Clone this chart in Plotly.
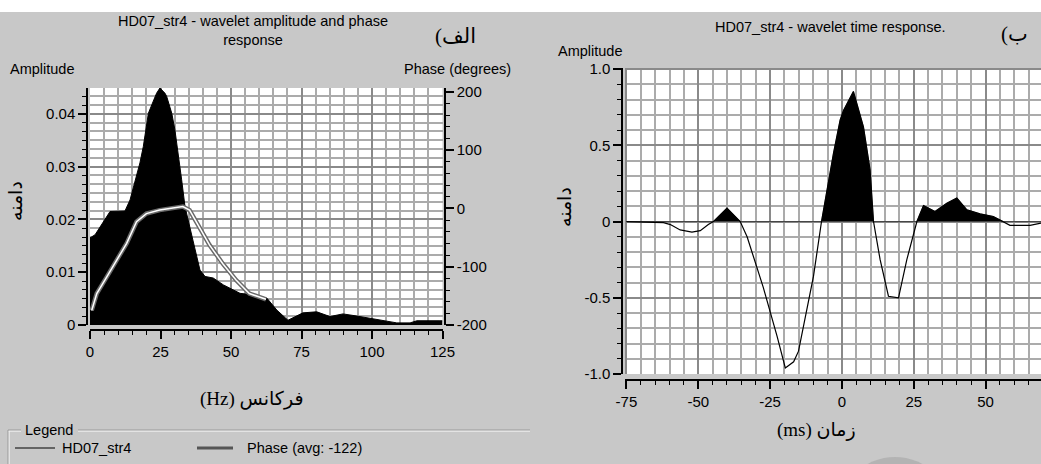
import numpy as np
import plotly.graph_objects as go

W, H = 1041, 464

# ---------------- data ----------------
freq_hz = [0, 1.8, 7.1, 12.4, 14.2, 17.7, 18.9, 20.7, 21.9, 23.6, 24.8, 26.6, 27.2, 29.0,
           30.1, 31.3, 32.5, 33.7, 36.1, 39.0, 40.8, 43.7, 47.3, 53.2, 57.9, 62.7, 66.3,
           70.2, 75.5, 80.4, 85.1, 89.7, 94.6, 99.3, 103.9, 108.8, 113.5, 115.9, 124.1, 125]
amplitude = [0.0165, 0.0171, 0.0215, 0.0216, 0.0237, 0.0307, 0.0338, 0.0401, 0.0417, 0.0439,
             0.0449, 0.0439, 0.0433, 0.0401, 0.0370, 0.0325, 0.0275, 0.0224, 0.0167, 0.0104,
             0.0092, 0.0089, 0.0076, 0.0060, 0.0057, 0.0051, 0.0028, 0.0009, 0.0023, 0.0025,
             0.0016, 0.0021, 0.0017, 0.0013, 0.0008, 0.0004, 0.0004, 0.0008, 0.0008, 0.0008]

phase_freq = [0.6, 2.4, 5.9, 9.4, 13.0, 16.5, 20.0, 24.7, 29.4, 32.9, 35.3, 38.8, 42.4,
              47.1, 51.8, 56.5, 61.2, 62.4]
phase_deg = [-175, -146, -118, -89, -60, -23, -9, -3, 0, 3, -3, -32, -63, -95, -123,
             -146, -155, -156]

time_ms = [-75, -62.1, -59.7, -56.3, -52.2, -49.3, -46.5, -44.7, -40.0, -35.4, -33.0,
           -27.4, -22.6, -19.7, -16.8, -15.1, -9.9, -7.1, -2.9, -0.6, 0.6, 4.0, 7.5, 9.8,
           11.0, 13.3, 16.2, 19.7, 22.6, 26.1, 28.4, 32.4, 36.5, 40.0, 43.5, 48.1, 52.7,
           56.2, 58.5, 65.5, 69.3]
wavelet = [0, -0.007, -0.02, -0.055, -0.07, -0.06, -0.02, 0, 0.088, 0, -0.1, -0.43, -0.75,
           -0.96, -0.92, -0.85, -0.36, 0, 0.45, 0.667, 0.73, 0.853, 0.62, 0.34, 0, -0.25,
           -0.49, -0.5, -0.25, 0, 0.105, 0.066, 0.12, 0.154, 0.077, 0.05, 0.033, 0, -0.025,
           -0.025, -0.01]

freq_ticks = [0, 25, 50, 75, 100, 125]
freq_ticktext = ["0", "25", "50", "75", "100", "125"]
amp_ticks = [0, 0.01, 0.02, 0.03, 0.04]
amp_ticktext = ["0", "0.01", "0.02", "0.03", "0.04"]
phase_ticks = [-200, -100, 0, 100, 200]
phase_ticktext = ["-200", "-100", "0", "100", "200"]
time_ticks = [-75, -50, -25, 0, 25, 50]
time_ticktext = ["-75", "-50", "-25", "0", "25", "50"]
wave_ticks = [-1.0, -0.5, 0, 0.5, 1.0]
wave_ticktext = ["-1.0", "-0.5", "0", "0.5", "1.0"]

left_title = "HD07_str4 - wavelet amplitude and phase<br>response"
right_title = "HD07_str4 - wavelet time response."
legend_names = ["HD07_str4", "Phase (avg: -122)"]

# ---------------- helpers ----------------
def X(p):
    return p / W

def Y(p):
    return 1 - p / H

SANS = "Liberation Sans, Arial, sans-serif"
SERIF = "Liberation Serif, DejaVu Serif, DejaVu Sans, serif"
BG = "#c8c8c8"
MAJ = "#8a8a8a"
MIN = "#ababab"

fig = go.Figure()

fig.add_trace(go.Scatter(x=freq_hz, y=amplitude, xaxis="x", yaxis="y", mode="lines",
                         fill="tozeroy", fillcolor="black",
                         line=dict(color="black", width=1)))
fig.add_trace(go.Scatter(x=phase_freq, y=phase_deg, xaxis="x", yaxis="y2", mode="lines",
                         line=dict(color="#6a6a6a", width=4.5)))
fig.add_trace(go.Scatter(x=phase_freq, y=phase_deg, xaxis="x", yaxis="y2", mode="lines",
                         line=dict(color="white", width=1.5)))

wave_pos = np.clip(np.array(wavelet), 0, None)
fig.add_trace(go.Scatter(x=time_ms, y=wave_pos, xaxis="x2", yaxis="y3", mode="lines",
                         fill="tozeroy", fillcolor="black",
                         line=dict(color="black", width=0.5)))
fig.add_trace(go.Scatter(x=time_ms, y=wavelet, xaxis="x2", yaxis="y3", mode="lines",
                         line=dict(color="black", width=1.2)))

tickfont = dict(family=SANS, size=15, color="black")

def minor(dtick, grid=True):
    return dict(tickmode="linear", tick0=0, dtick=dtick, ticks="outside", ticklen=4,
                tickwidth=1.2, tickcolor="black", showgrid=grid, gridcolor=MIN,
                gridwidth=1.5)

common = dict(showline=True, linecolor="black", linewidth=1.5, ticks="outside",
              ticklen=8, tickwidth=1.5, tickcolor="black", zeroline=False,
              tickfont=tickfont, tickmode="array", anchor="free", automargin=False)

fig.update_layout(
    width=W, height=H, autosize=False,
    margin=dict(l=0, r=0, t=0, b=0, pad=0),
    paper_bgcolor=BG, plot_bgcolor="white",
    showlegend=False, hovermode=False,
    xaxis=dict(domain=[X(90), X(442.5)], range=[0, 125], position=Y(330),
               tickvals=freq_ticks, ticktext=freq_ticktext,
               showgrid=True, gridcolor=MAJ, gridwidth=2, minor=minor(5), **common),
    yaxis=dict(domain=[Y(325), Y(88)], range=[0, 0.0449], position=X(87), side="left",
               tickvals=amp_ticks, ticktext=amp_ticktext,
               showgrid=True, gridcolor=MAJ, gridwidth=2, minor=minor(0.01 / 6), **common),
    yaxis2=dict(overlaying="y", range=[-200, 206.3], position=X(445), side="right",
                tickvals=phase_ticks, ticktext=phase_ticktext, showgrid=False,
                minor=minor(20, grid=False), **common),
    xaxis2=dict(domain=[X(625), 1], range=[-75.5, 69.3], position=Y(380),
                tickvals=time_ticks, ticktext=time_ticktext,
                showgrid=True, gridcolor=MAJ, gridwidth=2, minor=minor(5), **common),
    yaxis3=dict(domain=[Y(374), Y(68)], range=[-1.0, 1.007], position=X(622), side="left",
                tickvals=wave_ticks, ticktext=wave_ticktext,
                showgrid=True, gridcolor=MAJ, gridwidth=2, minor=minor(0.1), **common),
)

shapes = []
# white strip at top
shapes.append(dict(type="rect", xref="paper", yref="paper", x0=0, x1=1, y0=Y(12), y1=1,
                   fillcolor="white", line=dict(width=0), layer="below"))
# faint circle bottom right
shapes.append(dict(type="circle", xref="paper", yref="paper", x0=X(838), x1=X(952),
                   y0=Y(571), y1=Y(457), fillcolor="#b3b3b3", line=dict(width=0),
                   layer="below"))
# legend frame (etched)
for seg in [(8, 21), (78, 530)]:
    shapes.append(dict(type="line", xref="paper", yref="paper", x0=X(seg[0]), x1=X(seg[1]),
                       y0=Y(430), y1=Y(430), line=dict(color="#9a9a9a", width=1)))
    shapes.append(dict(type="line", xref="paper", yref="paper", x0=X(seg[0]), x1=X(seg[1]),
                       y0=Y(431.2), y1=Y(431.2), line=dict(color="#f0f0f0", width=1)))
shapes.append(dict(type="line", xref="paper", yref="paper", x0=X(8), x1=X(8),
                   y0=Y(430), y1=0, line=dict(color="#9a9a9a", width=1)))
shapes.append(dict(type="line", xref="paper", yref="paper", x0=X(9.2), x1=X(9.2),
                   y0=Y(431), y1=0, line=dict(color="#f0f0f0", width=1)))
# legend sample lines
shapes.append(dict(type="line", xref="paper", yref="paper", x0=X(15), x1=X(55),
                   y0=Y(448), y1=Y(448), line=dict(color="black", width=1.2)))
shapes.append(dict(type="line", xref="paper", yref="paper", x0=X(197), x1=X(233),
                   y0=Y(448), y1=Y(448), line=dict(color="#555555", width=3)))
fig.update_layout(shapes=shapes)

def ann(text, x, y, size=15, family=SANS, xanchor="center", angle=0, color="black"):
    return dict(text=text, x=X(x), y=Y(y), xref="paper", yref="paper", showarrow=False,
                xanchor=xanchor, yanchor="middle", textangle=angle,
                font=dict(family=family, size=size, color=color))

RLE, PDF = "\u202b", "\u202c"
annotations = [
    ann(left_title, 253, 30, size=14.5),
    ann(RLE + "الف)" + PDF, 455, 36, size=21, family=SERIF),
    ann(right_title, 830, 27, size=14.5),
    ann(RLE + "ب)" + PDF, 1014, 34, size=21, family=SERIF),
    ann("Amplitude", 8, 69, xanchor="left", size=14.5),
    ann("Phase (degrees)", 513, 69, xanchor="right", size=14.5),
    ann("Amplitude", 556, 51, xanchor="left", size=14.5),
    ann(RLE + "دامنه" + PDF, 15, 201, size=19, family=SERIF, angle=-90),
    ann(RLE + "دامنه" + PDF, 565, 207, size=19, family=SERIF, angle=-90),
    ann(RLE + "فرکانس (Hz)" + PDF, 251, 399, size=19, family=SERIF),
    ann(RLE + "زمان (ms)" + PDF, 816, 430, size=19, family=SERIF),
    ann("Legend", 23, 430, xanchor="left", size=14.5),
    ann(legend_names[0], 60, 448, xanchor="left", size=14.5),
    ann(legend_names[1], 245, 448, xanchor="left", size=14.5),
]
fig.update_layout(annotations=annotations)

post = """
document.documentElement.style.margin='0';
document.documentElement.style.overflow='hidden';
document.body.style.margin='0';
document.body.style.overflow='hidden';
var gd = document.getElementById('{plot_id}');
gd.style.width='1041px'; gd.style.height='464px';
Plotly.relayout(gd, {width: 1041, height: 464});
"""

fig.write_html("out.html", config={"responsive": False, "displayModeBar": False},
               post_script=post, default_width="1041px", default_height="464px")
